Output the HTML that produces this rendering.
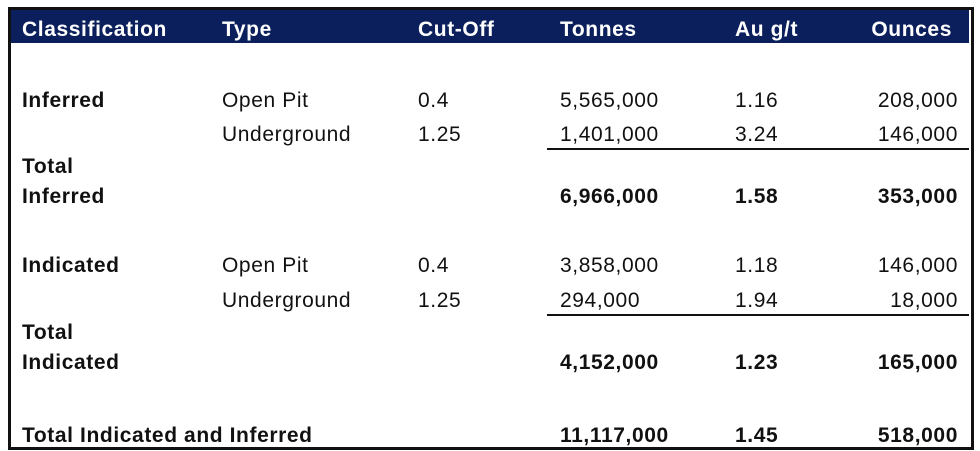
<!DOCTYPE html>
<html><head><style>
body{margin:0;width:980px;height:451px;background:#fff;position:relative;font-family:"Liberation Sans",Arial,sans-serif;overflow:hidden}
.box{position:absolute;left:8px;top:7px;width:960px;height:437px;border:3px solid #111}
.hdr{position:absolute;left:11px;top:10px;width:958px;height:33px;background:#0b1f5c}
.t{position:absolute;font-size:21px;color:#111;white-space:nowrap;line-height:22px;letter-spacing:0.6px}
.h{color:#fff;font-weight:bold;top:19px}
.b{font-weight:bold}
.r{text-align:right;width:200px}
.ln{position:absolute;left:547px;width:422px;height:2px;background:#111}
</style></head><body>
<div class="box"></div><div class="hdr"></div>
<div class="t h" style="left:22px">Classification</div>
<div class="t h" style="left:222px">Type</div>
<div class="t h" style="left:418px">Cut-Off</div>
<div class="t h" style="left:560px">Tonnes</div>
<div class="t h" style="left:735px">Au g/t</div>
<div class="t h r" style="left:752px">Ounces</div>

<div class="t b" style="left:22px;top:90px">Inferred</div>
<div class="t" style="left:222px;top:90px">Open Pit</div>
<div class="t" style="left:418px;top:90px">0.4</div>
<div class="t" style="left:560px;top:90px">5,565,000</div>
<div class="t" style="left:735px;top:90px">1.16</div>
<div class="t r" style="left:758px;top:90px">208,000</div>
<div class="t" style="left:222px;top:124px">Underground</div>
<div class="t" style="left:418px;top:124px">1.25</div>
<div class="t" style="left:560px;top:124px">1,401,000</div>
<div class="t" style="left:735px;top:124px">3.24</div>
<div class="t r" style="left:758px;top:124px">146,000</div>
<div class="ln" style="top:148px"></div>
<div class="t b" style="left:22px;top:156px">Total</div>
<div class="t b" style="left:22px;top:186px">Inferred</div>
<div class="t b" style="left:560px;top:186px">6,966,000</div>
<div class="t b" style="left:735px;top:186px">1.58</div>
<div class="t b r" style="left:758px;top:186px">353,000</div>

<div class="t b" style="left:22px;top:255px">Indicated</div>
<div class="t" style="left:222px;top:255px">Open Pit</div>
<div class="t" style="left:418px;top:255px">0.4</div>
<div class="t" style="left:560px;top:255px">3,858,000</div>
<div class="t" style="left:735px;top:255px">1.18</div>
<div class="t r" style="left:758px;top:255px">146,000</div>
<div class="t" style="left:222px;top:290px">Underground</div>
<div class="t" style="left:418px;top:290px">1.25</div>
<div class="t" style="left:560px;top:290px">294,000</div>
<div class="t" style="left:735px;top:290px">1.94</div>
<div class="t r" style="left:758px;top:290px">18,000</div>
<div class="ln" style="top:314px"></div>
<div class="t b" style="left:22px;top:322px">Total</div>
<div class="t b" style="left:22px;top:352px">Indicated</div>
<div class="t b" style="left:560px;top:352px">4,152,000</div>
<div class="t b" style="left:735px;top:352px">1.23</div>
<div class="t b r" style="left:758px;top:352px">165,000</div>

<div class="t b" style="left:22px;top:425px">Total Indicated and Inferred</div>
<div class="t b" style="left:560px;top:425px">11,117,000</div>
<div class="t b" style="left:735px;top:425px">1.45</div>
<div class="t b r" style="left:758px;top:425px">518,000</div>
</body></html>
